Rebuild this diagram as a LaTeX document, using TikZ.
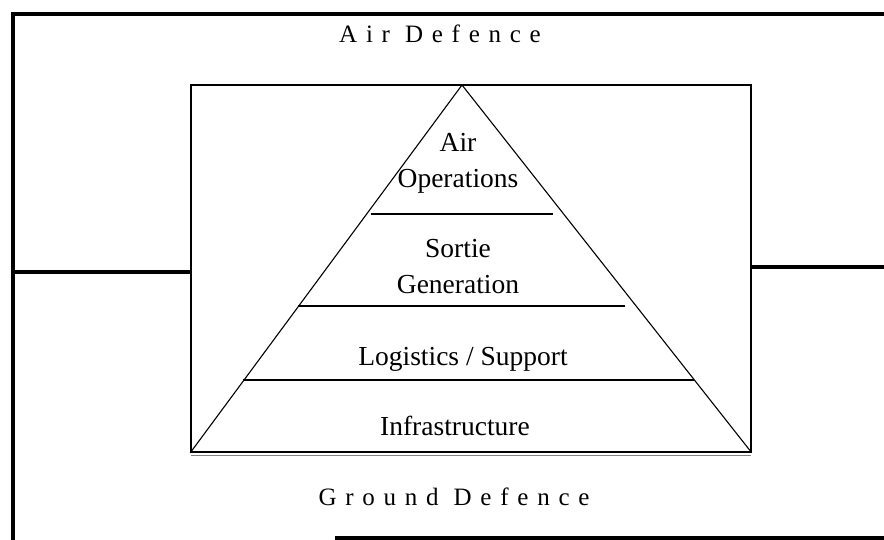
\documentclass[tikz,border=0pt]{standalone}
\usepackage{fontspec}
\setmainfont{Liberation Serif}
\newfontfamily\spacedfont[LetterSpace=35]{Liberation Serif}
\usetikzlibrary{positioning}
\tikzstyle{frame}=[draw, line width=4pt]
\tikzstyle{box}=[draw, line width=1.2pt, inner sep=0]
\tikzstyle{tier}=[line width=1.1pt]
\tikzstyle{label}=[inner sep=0, align=center, font=\fontsize{27.5}{36}\selectfont]
\tikzstyle{zone}=[inner sep=0, anchor=base, font=\spacedfont\fontsize{25}{30}\selectfont]

\begin{document}
\begin{tikzpicture}[x=1pt, y=-1pt]
        \useasboundingbox (0,0) rectangle (884,540);
        % outer frame
        \draw[frame] (884,14) -- (13,14) -- (13,540);
        \draw[frame] (335,538) -- (884,538);
        \node[zone] (airdef) at (440,43) {Air Defence};
        \node[zone] (grounddef) at (454,505) {Ground Defence};
        % inner box and pyramid
        \node[box, minimum width=560pt, minimum height=367pt] (inner) at (471,268.5) {};
        \draw[gray, line width=0.8pt] (191,455) -- (751,455);
        \coordinate (apex) at (462,85);
        \draw[tier] (inner.south west) -- (apex) -- (inner.south east);
        \draw[tier] (371,214) -- (553,214);
        \draw[tier] (298,306) -- (625,306);
        \draw[tier] (243,380) -- (694,380);
        \node[label] (airops) at (458,163) {Air\\Operations};
        \node[label] (sortie) at (458,267) {Sortie\\Generation};
        \node[label, anchor=base] (logist) at (463,365) {Logistics / Support};
        \node[label, anchor=base] (infra) at (455,435) {Infrastructure};
        % side links
        \coordinate (westend) at (13,272);
        \coordinate (eastend) at (884,267);
        \draw[line width=4pt] (westend) -- (westend -| inner.west);
        \draw[line width=4pt] (eastend) -- (eastend -| inner.east);
    \end{tikzpicture}
\end{document}
